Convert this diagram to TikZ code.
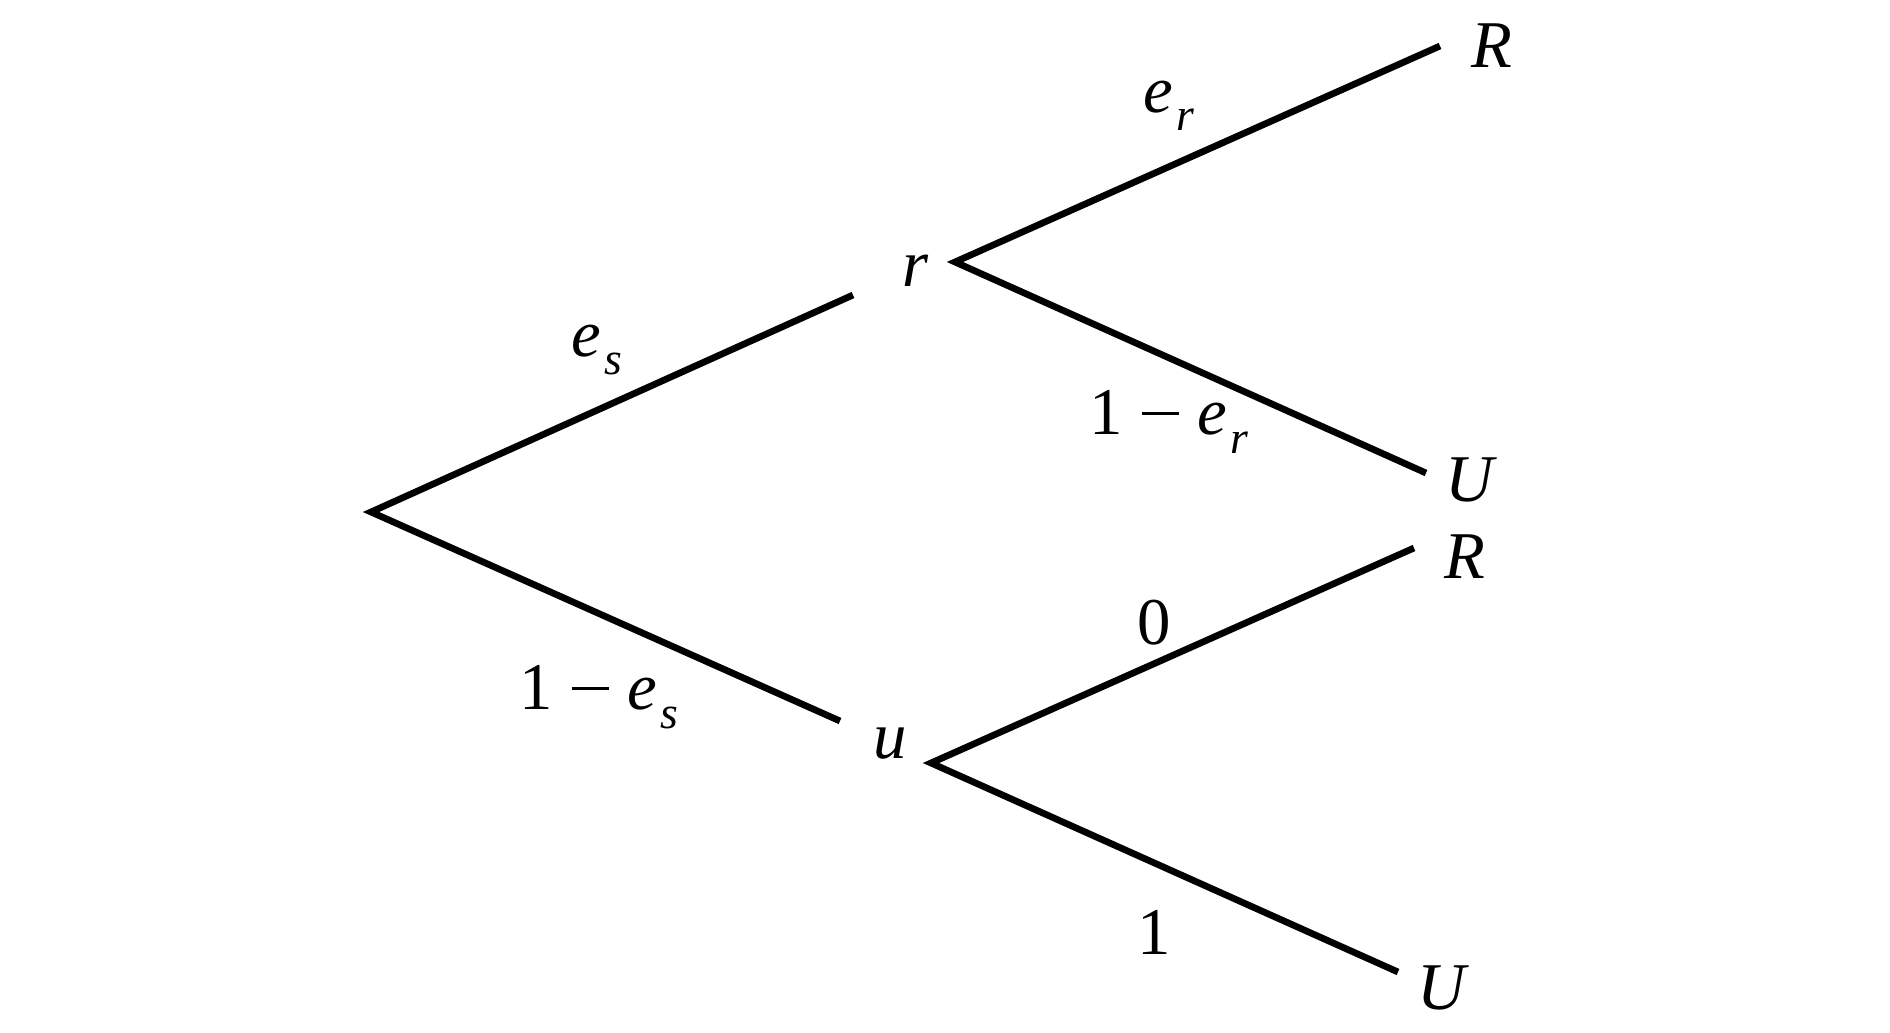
\documentclass[tikz,border=0pt]{standalone}
\usepackage{fontspec}
\setmainfont{Liberation Serif}
\usepackage{tikz}
\usetikzlibrary{positioning}

\newcommand{\var}[1]{\textit{#1}}
\newcommand{\probsub}[2]{\textit{#1}\kern0.05em\raisebox{-0.6ex}{\fontsize{13}{15}\selectfont\textit{#2}}}
\newcommand{\minusbar}{\hspace{0.28em}\rule[0.3em]{0.56em}{0.045em}\hspace{0.28em}}

\tikzset{
    branch/.style={line width=1.9pt},
    lab/.style={font=\fontsize{19}{22}\selectfont, inner sep=0pt}
}

\begin{document}
\begin{tikzpicture}
        \useasboundingbox (0,0) rectangle (18.9,10.32);

        % branch points and leaf ends
        \coordinate (s) at (3.71,5.20);
        \coordinate (rin) at (8.53,7.37);
        \coordinate (rout) at (9.55,7.70);
        \coordinate (uin) at (8.40,3.11);
        \coordinate (uout) at (9.31,2.69);
        \coordinate (rR) at (14.40,9.86);
        \coordinate (rU) at (14.26,5.59);
        \coordinate (uR) at (14.14,4.84);
        \coordinate (uU) at (13.98,0.60);

        \node[lab] (r) at (9.16,7.61) {\var{r}};
        \node[lab] (u) at (8.90,2.88) {\var{u}};
        \node[lab] (R1) at (14.92,9.86) {\var{R}};
        \node[lab] (U1) at (14.71,5.52) {\var{U}};
        \node[lab] (R2) at (14.65,4.75) {\var{R}};
        \node[lab] (U2) at (14.43,0.44) {\var{U}};

        \draw[branch] (rin) -- (s) -- (uin);
        \draw[branch] (rR) -- (rout) -- (rU);
        \draw[branch] (uR) -- (uout) -- (uU);

        \node[lab] (pes) at (5.97,6.82) {\probsub{e}{s}};
        \node[lab] (pnes) at (5.99,3.35) {1\minusbar\probsub{e}{s}};
        \node[lab] (per) at (11.69,9.26) {\probsub{e}{r}};
        \node[lab] (pner) at (11.69,6.10) {1\minusbar\probsub{e}{r}};
        \node[lab] (pz) at (11.54,4.09) {0};
        \node[lab] (po) at (11.54,1.00) {1};
    \end{tikzpicture}
\end{document}
